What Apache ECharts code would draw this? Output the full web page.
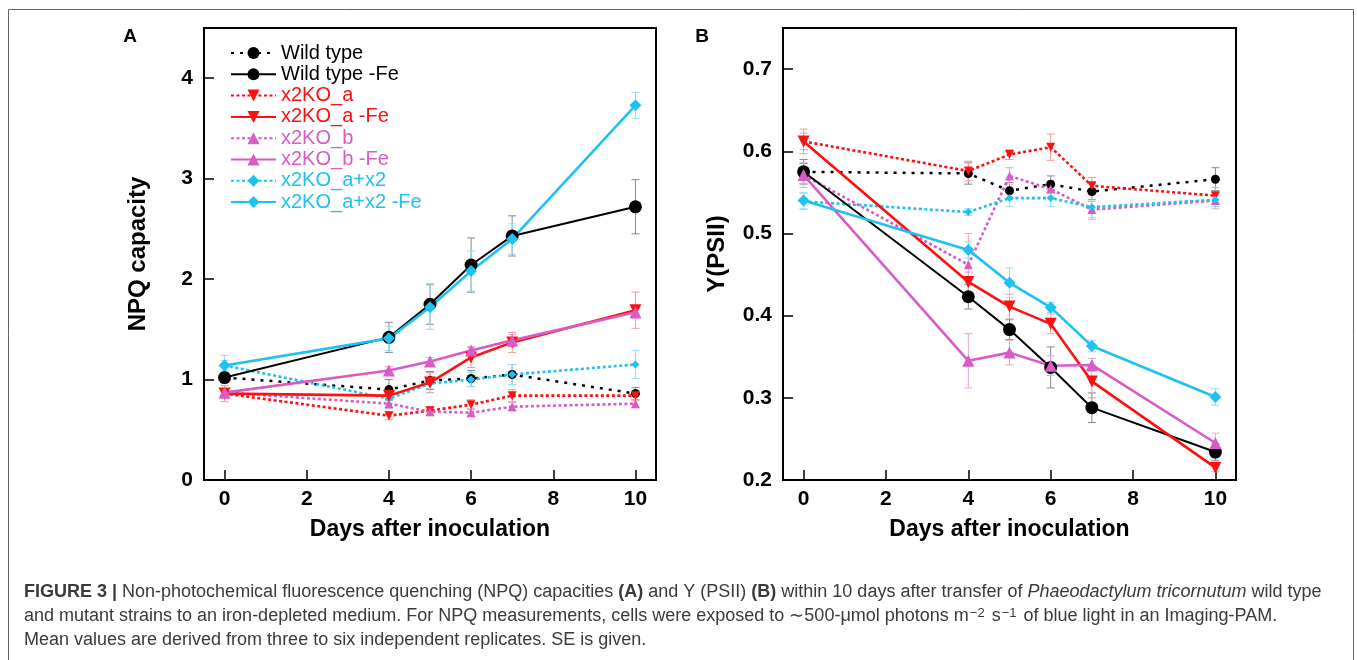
<!DOCTYPE html>
<html>
<head>
<meta charset="utf-8">
<title>NPQ and Y(PSII)</title>
<script src="https://cdn.jsdelivr.net/npm/echarts@6/dist/echarts.min.js"></script>
<style>
  html, body { margin: 0; padding: 0; background: #fff; }
  #chart { width: 1357px; height: 660px; }
</style>
</head>
<body>
<div id="chart"></div>
<script>
// days after inoculation
var days = [0, 4, 5, 6, 7, 10];
var seriesNames = ['Wild type', 'Wild type -Fe', 'x2KO_a', 'x2KO_a -Fe',
                   'x2KO_b', 'x2KO_b -Fe', 'x2KO_a+x2', 'x2KO_a+x2 -Fe'];

// panel A, NPQ capacity (rows follow seriesNames)
var npqMeans = [
  [1.02, 0.90, 0.99, 1.01, 1.05, 0.86],
  [1.02, 1.42, 1.75, 2.14, 2.43, 2.72],
  [0.86, 0.64, 0.69, 0.75, 0.84, 0.84],
  [0.86, 0.84, 0.97, 1.22, 1.37, 1.69],
  [0.87, 0.76, 0.68, 0.67, 0.73, 0.76],
  [0.87, 1.09, 1.18, 1.29, 1.39, 1.67],
  [1.14, 0.81, 0.96, 1.00, 1.05, 1.15],
  [1.14, 1.41, 1.72, 2.08, 2.40, 3.73]
];
var npqErrors = [
  [0.05, 0.10, 0.09, 0.08, 0.10, 0.06],
  [0.05, 0.15, 0.20, 0.27, 0.20, 0.27],
  [0.08, 0.04, 0.04, 0.05, 0.06, 0.05],
  [0.05, 0.05, 0.10, 0.10, 0.10, 0.18],
  [0.04, 0.05, 0.04, 0.04, 0.04, 0.04],
  [0.04, 0.04, 0.04, 0.04, 0.06, 0.06],
  [0.05, 0.05, 0.05, 0.07, 0.10, 0.14],
  [0.10, 0.12, 0.22, 0.20, 0.15, 0.13]
];

// panel B, Y(PSII)
var yMeans = [
  [0.575, 0.573, 0.552, 0.560, 0.551, 0.566],
  [0.575, 0.423, 0.383, 0.337, 0.288, 0.234],
  [0.612, 0.576, 0.596, 0.605, 0.558, 0.546],
  [0.612, 0.441, 0.411, 0.390, 0.320, 0.215],
  [0.571, 0.462, 0.570, 0.554, 0.529, 0.540],
  [0.571, 0.345, 0.355, 0.339, 0.340, 0.245],
  [0.539, 0.526, 0.543, 0.543, 0.532, 0.541],
  [0.540, 0.480, 0.440, 0.410, 0.363, 0.301]
];
var yErrors = [
  [0.015, 0.013, 0.010, 0.010, 0.010, 0.014],
  [0.010, 0.015, 0.012, 0.025, 0.018, 0.010],
  [0.015, 0.012, 0.006, 0.016, 0.010, 0.010],
  [0.010, 0.012, 0.015, 0.012, 0.020, 0.005],
  [0.015, 0.038, 0.010, 0.010, 0.010, 0.010],
  [0.010, 0.033, 0.015, 0.012, 0.008, 0.012],
  [0.010, 0.004, 0.010, 0.010, 0.015, 0.008],
  [0.010, 0.010, 0.018, 0.006, 0.007, 0.010]
];

var xTicks = [0, 2, 4, 6, 8, 10];
var npqTicks = [0, 1, 2, 3, 4];
var yTicks = [0.2, 0.3, 0.4, 0.5, 0.6, 0.7];

// look of each series
var colors = ['#000000', '#000000', '#ff1010', '#ff1010', '#d85bc6', '#d85bc6', '#1ec2f2', '#1ec2f2'];
var barColors = ['#8a8a8a', '#8a8a8a', '#f29a9a', '#f29a9a', '#e6a3dc', '#e6a3dc', '#93def6', '#93def6'];
var symbols = ['circle', 'circle', 'triangle', 'triangle', 'triangle', 'triangle', 'diamond', 'diamond'];
var rotates = [0, 0, 180, 180, 0, 0, 0, 0];
var symSizes = [9, 13, 9, 12, 9, 12, 8, 12];
var FONT = "'Liberation Sans', Arial, Helvetica, sans-serif";

var chart = echarts.init(document.getElementById('chart'));

function errRender(color) {
  return function (params, api) {
    var x = api.value(0);
    var top = api.coord([x, api.value(2)]);
    var bot = api.coord([x, api.value(1)]);
    var w = 4;
    var st = { stroke: color, lineWidth: 1 };
    return {
      type: 'group',
      children: [
        { type: 'line', shape: { x1: top[0], y1: top[1], x2: bot[0], y2: bot[1] }, style: st },
        { type: 'line', shape: { x1: top[0] - w, y1: top[1], x2: top[0] + w, y2: top[1] }, style: st },
        { type: 'line', shape: { x1: bot[0] - w, y1: bot[1], x2: bot[0] + w, y2: bot[1] }, style: st }
      ]
    };
  };
}

var series = [];
function addPanel(means, errors, idx) {
  for (var i = 0; i < seriesNames.length; i++) {
    var dotted = (i % 2 === 0);
    var bars = [];
    var pts = [];
    for (var j = 0; j < days.length; j++) {
      pts.push([days[j], means[i][j]]);
      bars.push([days[j], means[i][j] - errors[i][j], means[i][j] + errors[i][j]]);
    }
    series.push({
      type: 'line',
      name: seriesNames[i],
      xAxisIndex: idx, yAxisIndex: idx,
      data: pts,
      symbol: symbols[i],
      symbolRotate: rotates[i],
      symbolSize: symSizes[i],
      showAllSymbol: true,
      itemStyle: { color: colors[i] },
      lineStyle: {
        color: colors[i],
        width: i < 2 ? (dotted ? 2.5 : 2) : 2.6,
        type: dotted ? (i === 0 ? [3, 6] : [3, 2.5]) : 'solid'
      },
      z: dotted ? 3 : 4,
      animation: false
    });
    series.push({
      type: 'custom',
      name: seriesNames[i] + ' SE',
      xAxisIndex: idx, yAxisIndex: idx,
      renderItem: errRender(barColors[i]),
      data: bars,
      z: 1,
      silent: true
    });
  }
}
addPanel(npqMeans, npqErrors, 0);
addPanel(yMeans, yErrors, 1);

function xAxisCfg(gi) {
  return {
    type: 'value', gridIndex: gi, min: -0.5, max: 10.5,
    name: 'Days after inoculation', nameLocation: 'middle', nameGap: 38,
    nameTextStyle: { fontFamily: FONT, fontWeight: 'bold', fontSize: 23, color: '#000' },
    axisLine: { onZero: false, lineStyle: { color: '#000', width: 2 } },
    axisTick: { inside: true, length: 10, customValues: xTicks, lineStyle: { color: '#000', width: 1.5 } },
    axisLabel: { customValues: xTicks, margin: 9, fontFamily: FONT, fontWeight: 'bold', fontSize: 21, color: '#000' },
    splitLine: { show: false }
  };
}
function yAxisCfg(gi, name, min, max, ticks, fmt) {
  return {
    type: 'value', gridIndex: gi, min: min, max: max,
    name: name, nameLocation: 'middle', nameGap: 54,
    nameTextStyle: { fontFamily: FONT, fontWeight: 'bold', fontSize: 24, color: '#000' },
    axisLine: { onZero: false, lineStyle: { color: '#000', width: 2 } },
    axisTick: { inside: true, length: 10, customValues: ticks, lineStyle: { color: '#000', width: 1.5 } },
    axisLabel: { customValues: ticks, margin: 11, formatter: fmt, fontFamily: FONT, fontWeight: 'bold', fontSize: 21, color: '#000' },
    splitLine: { show: false }
  };
}

var legendData = [];
for (var k = 0; k < seriesNames.length; k++) {
  legendData.push({ name: seriesNames[k], textStyle: { color: colors[k] } });
}

var capRich = {
  b: { fontFamily: FONT, fontSize: 18, fontWeight: 'bold', color: '#2a2a2a' },
  i: { fontFamily: FONT, fontSize: 18, fontStyle: 'italic', color: '#3a3a3a' },
  sup: { fontFamily: FONT, fontSize: 13, color: '#3a3a3a', verticalAlign: 'top', lineHeight: 13, padding: [0, 2, 6, 1] }
};
function capLine(y, txt) {
  return {
    type: 'text', x: 24, y: y,
    style: {
      text: txt, fill: '#3a3a3a', font: '18px ' + FONT,
      rich: capRich, verticalAlign: 'middle'
    }
  };
}

chart.setOption({
  animation: false,
  backgroundColor: '#fff',
  grid: [
    { left: 204, top: 28, width: 452, height: 452, show: true, borderColor: '#000', borderWidth: 2 },
    { left: 783, top: 28, width: 453, height: 452, show: true, borderColor: '#000', borderWidth: 2 }
  ],
  xAxis: [xAxisCfg(0), xAxisCfg(1)],
  yAxis: [
    yAxisCfg(0, 'NPQ capacity', 0, 4.5, npqTicks, function (v) { return v.toFixed(0); }),
    yAxisCfg(1, 'Y(PSII)', 0.2, 0.75, yTicks, function (v) { return v.toFixed(1); })
  ],
  legend: {
    orient: 'vertical', left: 225, top: 38,
    itemWidth: 45, itemHeight: 15, itemGap: 1.3,
    textStyle: { fontFamily: FONT, fontSize: 20, lineHeight: 20 },
    data: legendData
  },
  graphic: [
    { type: 'rect', shape: { x: 8.5, y: 9.5, width: 1345, height: 700 },
      style: { fill: 'none', stroke: '#666', lineWidth: 1 }, silent: true },
    { type: 'text', x: 130, y: 37, style: { text: 'A', font: 'bold 19px ' + FONT, fill: '#000', align: 'center', verticalAlign: 'middle' } },
    { type: 'text', x: 702, y: 37, style: { text: 'B', font: 'bold 19px ' + FONT, fill: '#000', align: 'center', verticalAlign: 'middle' } },
    capLine(592, '{b|FIGURE 3 |} Non-photochemical fluorescence quenching (NPQ) capacities {b|(A)} and Y (PSII) {b|(B)} within 10 days after transfer of {i|Phaeodactylum tricornutum} wild type'),
    capLine(616, 'and mutant strains to an iron-depleted medium. For NPQ measurements, cells were exposed to \u223c500-\u03bcmol photons m{sup|\u22122} s{sup|\u22121} of blue light in an Imaging-PAM.'),
    capLine(640, 'Mean values are derived from three to six independent replicates. SE is given.')
  ],
  series: series
});
</script>
</body>
</html>
